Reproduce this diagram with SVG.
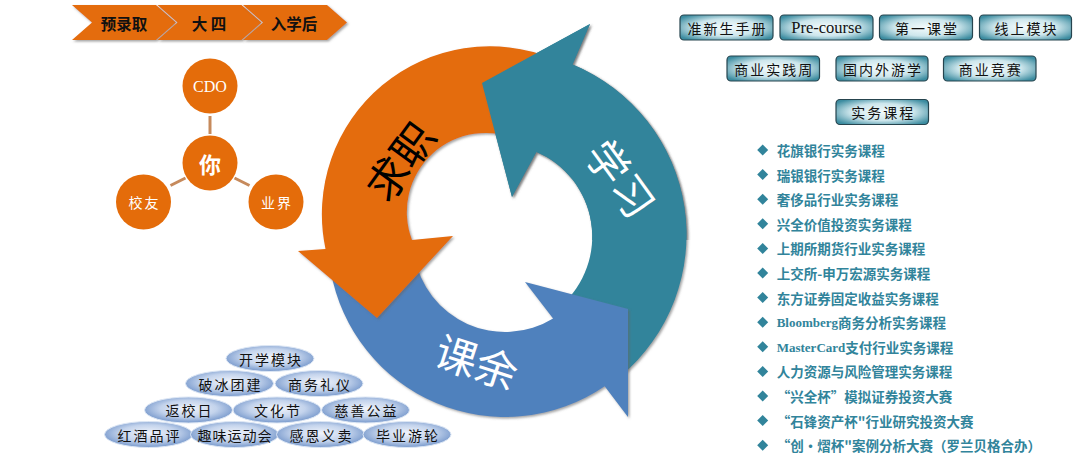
<svg xmlns="http://www.w3.org/2000/svg" width="1080" height="469" viewBox="0 0 1080 469">
<defs>
  <style>
    .chev path{fill:#E46C0A;filter:url(#sh)}
    .chev text{font-family:"Noto Sans CJK SC",sans-serif;font-size:15.5px;font-weight:bold;fill:#111;text-anchor:middle;dominant-baseline:central}
    .pc circle{fill:#E46C0A}
    .pc text{fill:#fff;text-anchor:middle;dominant-baseline:central;font-family:"Noto Sans CJK SC",sans-serif}
    .link{stroke:#C68A5C;stroke-width:3}
    .btn rect{fill:url(#btnG);stroke:#26444E;stroke-width:1.2}
    .btn text{font-family:"Noto Sans CJK SC",sans-serif;font-size:14px;letter-spacing:2px;fill:#111;text-anchor:middle;dominant-baseline:central}
    .li polygon{fill:#31849B}
    .li text{font-family:"Noto Sans CJK SC",sans-serif;font-size:13.5px;font-weight:bold;fill:#31849B;dominant-baseline:central}
    .lat{font-family:"Liberation Serif",serif;font-size:13px;font-weight:bold}
    .el ellipse{fill:url(#ellG);stroke:#DDE7F5;stroke-width:1}
    .el text{font-family:"Noto Sans CJK SC",sans-serif;font-size:14px;letter-spacing:2px;fill:#111;text-anchor:middle;dominant-baseline:central}
    .arrowtxt{font-family:"Noto Sans CJK SC",sans-serif;font-size:42px;text-anchor:middle;dominant-baseline:central}
  </style>
  <filter id="sh" x="-10%" y="-10%" width="130%" height="130%">
    <feDropShadow dx="1.5" dy="1.5" stdDeviation="0.8" flood-color="#666" flood-opacity="0.6"/>
  </filter>
  <radialGradient id="btnG" cx="50%" cy="50%" r="62%">
    <stop offset="0" stop-color="#F4FBFC"/>
    <stop offset="0.55" stop-color="#CDE6EC"/>
    <stop offset="1" stop-color="#3C8CA0"/>
  </radialGradient>
  <radialGradient id="ellG" cx="50%" cy="45%" r="58%">
    <stop offset="0" stop-color="#F1F4FB"/>
    <stop offset="0.55" stop-color="#C3D3EC"/>
    <stop offset="1" stop-color="#6C90C7"/>
  </radialGradient>
  <clipPath id="topclip"><rect x="440" y="0" width="260" height="240"/></clipPath>
  <path id="tealArrow" d="M572.6,64.5 A184.5,184.5 0 0 1 620.6,376.3 L561.1,305.5 A92,92 0 0 0 536.4,151.9 L512,197 L482,83 L590,24 Z"/>
</defs>

<rect width="1080" height="469" fill="#fff"/>

<!-- timeline chevrons -->
<g id="chevrons" class="chev">
  <g id="chev-1"><path d="M72,5 H156 L176,22.5 L156,40 H72 L92,22.5 Z"/><text x="124" y="22.5">预录取</text></g>
  <g id="chev-2"><path d="M157.5,5 H241.5 L261.5,22.5 L241.5,40 H157.5 L177.5,22.5 Z"/><text x="209" y="22.5">大 四</text></g>
  <g id="chev-3"><path d="M243,5 H327 L347,22.5 L327,40 H243 L263,22.5 Z"/><text x="294" y="22.5">入学后</text></g>
</g>

<!-- network connectors -->
<g id="connectors">
  <line class="link" x1="210" y1="116" x2="210" y2="134"/>
  <line class="link" x1="170.5" y1="185.5" x2="185.5" y2="178"/>
  <line class="link" x1="234.5" y1="178" x2="249.5" y2="185.5"/>
</g>

<g id="node-cdo" class="pc"><circle cx="210" cy="86" r="27.5"/><text x="210" y="86" style="font-family:'Liberation Serif',serif;font-size:16px">CDO</text></g>
<g id="node-you" class="pc"><circle cx="210" cy="163" r="27.5"/><text x="210" y="163" style="font-size:22px;font-weight:bold">你</text></g>
<g id="node-alumni" class="pc"><circle cx="143.5" cy="202" r="27.5"/><text x="144.5" y="202" style="font-size:14px;letter-spacing:2px">校友</text></g>
<g id="node-industry" class="pc"><circle cx="276" cy="202" r="27.5"/><text x="277" y="202" style="font-size:14px;letter-spacing:2px">业界</text></g>

<!-- cycle -->
<g id="cycle">
  <use href="#tealArrow" fill="#31849B" filter="url(#sh)"/>
  <path id="blueArrow" fill="#4F81BD" filter="url(#sh)" d="M330.7,270.7 A177,177 0 0 0 604.7,386.2 L628,417 L628,309 L525,282 L553.1,318.4 A92,92 0 0 1 414.4,256 Z"/>
  <path id="orangeArrow" fill="#E46C0A" filter="url(#sh)" d="M553.3,58.7 A168,168 0 0 0 325.5,249 L298,251 L377,318 L453,236 L412,240 A79,79 0 0 1 520.2,140.8 Z"/>
  <use href="#tealArrow" fill="#31849B" filter="url(#sh)" clip-path="url(#topclip)"/>
  <text class="arrowtxt" fill="#000" transform="translate(398,160) rotate(-54)">求职</text>
  <text class="arrowtxt" fill="#fff" transform="translate(622.5,177.5) rotate(54)">学习</text>
  <text class="arrowtxt" fill="#fff" transform="translate(477.5,360) rotate(18)">课余</text>
</g>

<!-- buttons -->
<g id="btn-1" class="btn"><rect x="680" y="15" width="93" height="25" rx="4"/><text x="727.5" y="27.5">准新生手册</text></g>
<g id="btn-2" class="btn"><rect x="780" y="15" width="93" height="25" rx="4"/><text x="826.5" y="27.5" style="font-family:'Liberation Serif',serif;font-size:16.5px;letter-spacing:0">Pre-course</text></g>
<g id="btn-3" class="btn"><rect x="879.5" y="15" width="93" height="25" rx="4"/><text x="927" y="27.5">第一课堂</text></g>
<g id="btn-4" class="btn"><rect x="979.5" y="15" width="92" height="25" rx="4"/><text x="1026.5" y="27.5">线上模块</text></g>
<g id="btn-5" class="btn"><rect x="727" y="56" width="92.5" height="25" rx="4"/><text x="774.2" y="68.5">商业实践周</text></g>
<g id="btn-6" class="btn"><rect x="836" y="56" width="92" height="25" rx="4"/><text x="883" y="68.5">国内外游学</text></g>
<g id="btn-7" class="btn"><rect x="943.5" y="56" width="92.5" height="25" rx="4"/><text x="990.7" y="68.5">商业竞赛</text></g>
<g id="btn-8" class="btn"><rect x="836" y="99.5" width="92.5" height="25" rx="4"/><text x="883.2" y="112">实务课程</text></g>

<!-- course list -->
<g id="course-list" class="li">
  <g id="li-1"><polygon points="762.7,144.5 768.2,150 762.7,155.5 757.2,150"/><text x="776.7" y="150">花旗银行实务课程</text></g>
  <g id="li-2"><polygon points="762.7,169.1 768.2,174.6 762.7,180.1 757.2,174.6"/><text x="776.7" y="174.6">瑞银银行实务课程</text></g>
  <g id="li-3"><polygon points="762.7,193.7 768.2,199.2 762.7,204.7 757.2,199.2"/><text x="776.7" y="199.2">奢侈品行业实务课程</text></g>
  <g id="li-4"><polygon points="762.7,218.3 768.2,223.8 762.7,229.3 757.2,223.8"/><text x="776.7" y="223.8">兴全价值投资实务课程</text></g>
  <g id="li-5"><polygon points="762.7,242.9 768.2,248.4 762.7,253.9 757.2,248.4"/><text x="776.7" y="248.4">上期所期货行业实务课程</text></g>
  <g id="li-6"><polygon points="762.7,267.5 768.2,273 762.7,278.5 757.2,273"/><text x="776.7" y="273">上交所-申万宏源实务课程</text></g>
  <g id="li-7"><polygon points="762.7,292.1 768.2,297.6 762.7,303.1 757.2,297.6"/><text x="776.7" y="297.6">东方证券固定收益实务课程</text></g>
  <g id="li-8"><polygon points="762.7,316.7 768.2,322.2 762.7,327.7 757.2,322.2"/><text x="776.7" y="322.2"><tspan class="lat">Bloomberg</tspan>商务分析实务课程</text></g>
  <g id="li-9"><polygon points="762.7,341.3 768.2,346.8 762.7,352.3 757.2,346.8"/><text x="776.7" y="346.8"><tspan class="lat">MasterCard</tspan>支付行业实务课程</text></g>
  <g id="li-10"><polygon points="762.7,365.9 768.2,371.4 762.7,376.9 757.2,371.4"/><text x="776.7" y="371.4">人力资源与风险管理实务课程</text></g>
  <g id="li-11"><polygon points="762.7,390.5 768.2,396 762.7,401.5 757.2,396"/><text x="776.7" y="396">“兴全杯”模拟证券投资大赛</text></g>
  <g id="li-12"><polygon points="762.7,415.1 768.2,420.6 762.7,426.1 757.2,420.6"/><text x="776.7" y="420.6">“石锋资产杯"行业研究投资大赛</text></g>
  <g id="li-13"><polygon points="762.7,439.7 768.2,445.2 762.7,450.7 757.2,445.2"/><text x="776.7" y="445.2">“创·熠杯"案例分析大赛（罗兰贝格合办）</text></g>
</g>

<!-- activity pyramid -->
<g id="pyr-1" class="el"><ellipse cx="270" cy="358.5" rx="44" ry="13"/><text x="271" y="358.5">开学模块</text></g>
<g id="pyr-2" class="el"><ellipse cx="229.5" cy="383.5" rx="44" ry="13"/><text x="230.5" y="383.5">破冰团建</text></g>
<g id="pyr-3" class="el"><ellipse cx="319" cy="383.5" rx="44" ry="13"/><text x="320" y="383.5">商务礼仪</text></g>
<g id="pyr-4" class="el"><ellipse cx="188.5" cy="410" rx="44" ry="13"/><text x="189.5" y="410">返校日</text></g>
<g id="pyr-5" class="el"><ellipse cx="277" cy="410" rx="44" ry="13"/><text x="278" y="410">文化节</text></g>
<g id="pyr-6" class="el"><ellipse cx="365.5" cy="410" rx="44" ry="13"/><text x="366.5" y="410">慈善公益</text></g>
<g id="pyr-7" class="el"><ellipse cx="148.5" cy="434.5" rx="44" ry="13"/><text x="149.5" y="434.5">红酒品评</text></g>
<g id="pyr-8" class="el"><ellipse cx="234.5" cy="434.5" rx="44" ry="13"/><text x="235" y="434.5" style="letter-spacing:1px">趣味运动会</text></g>
<g id="pyr-9" class="el"><ellipse cx="320.5" cy="434.5" rx="44" ry="13"/><text x="321.5" y="434.5">感恩义卖</text></g>
<g id="pyr-10" class="el"><ellipse cx="407" cy="434.5" rx="44" ry="13"/><text x="408" y="434.5">毕业游轮</text></g>
</svg>
